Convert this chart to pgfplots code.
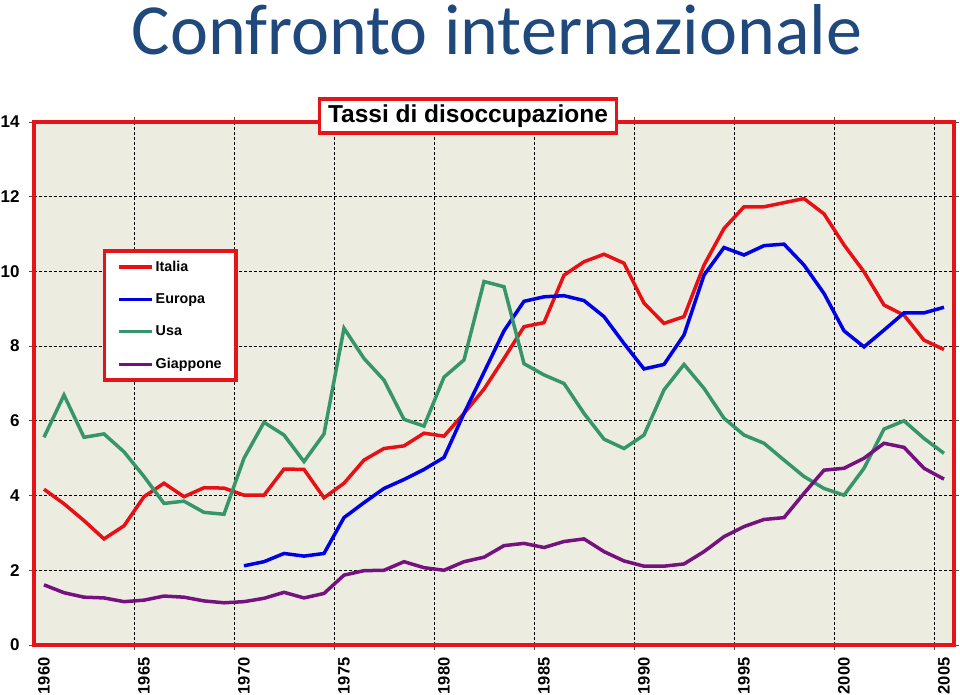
\documentclass[border=0pt]{standalone}
\usepackage{pgfplots}
\pgfplotsset{compat=1.18}
\usepackage{pgfplotstable}
\usepackage{fontspec}
\setmainfont{Liberation Sans}
\newfontfamily\titlefont{Carlito}
\definecolor{bgcol}{RGB}{236,237,224}
\definecolor{cred}{RGB}{232,16,20}
\definecolor{cblue}{RGB}{0,0,230}
\definecolor{cgreen}{RGB}{55,150,105}
\definecolor{cpurple}{RGB}{118,18,128}
\definecolor{ctitle}{RGB}{31,73,125}
\definecolor{cframe}{RGB}{228,20,24}

\pgfplotstableread{
year italia usa giappone
1960 4.17 5.56 1.61
1961 3.78 6.69 1.40
1962 3.33 5.56 1.28
1963 2.84 5.65 1.26
1964 3.19 5.17 1.16
1965 3.97 4.51 1.20
1966 4.33 3.79 1.31
1967 3.97 3.85 1.28
1968 4.21 3.55 1.18
1969 4.20 3.50 1.13
1970 4.01 5.00 1.16
1971 4.01 5.96 1.25
1972 4.71 5.62 1.41
1973 4.70 4.91 1.26
1974 3.94 5.65 1.38
1975 4.33 8.48 1.87
1976 4.95 7.67 1.99
1977 5.26 7.09 2.00
1978 5.33 6.04 2.23
1979 5.67 5.86 2.07
1980 5.59 7.17 2.00
1981 6.20 7.63 2.23
1982 6.85 9.73 2.35
1983 7.67 9.59 2.66
1984 8.52 7.53 2.72
1985 8.63 7.23 2.61
1986 9.90 7.00 2.77
1987 10.26 6.20 2.84
1988 10.46 5.51 2.50
1989 10.22 5.26 2.25
1990 9.15 5.62 2.11
1991 8.61 6.83 2.11
1992 8.79 7.51 2.17
1993 10.17 6.87 2.50
1994 11.15 6.07 2.90
1995 11.73 5.62 3.17
1996 11.73 5.40 3.36
1997 11.84 4.95 3.41
1998 11.95 4.51 4.06
1999 11.54 4.19 4.68
2000 10.71 4.01 4.73
2001 9.99 4.73 5.00
2002 9.10 5.78 5.40
2003 8.83 6.00 5.29
2004 8.16 5.53 4.73
2005 7.91 5.13 4.44
}\maindata

\pgfplotstableread{
year europa
1970 2.12
1971 2.23
1972 2.45
1973 2.38
1974 2.45
1975 3.41
1976 3.81
1977 4.19
1978 4.43
1979 4.70
1980 5.02
1981 6.20
1982 7.30
1983 8.41
1984 9.20
1985 9.32
1986 9.35
1987 9.22
1988 8.79
1989 8.07
1990 7.39
1991 7.51
1992 8.30
1993 9.90
1994 10.64
1995 10.44
1996 10.69
1997 10.73
1998 10.17
1999 9.41
2000 8.41
2001 7.98
2002 8.43
2003 8.89
2004 8.89
2005 9.04
}\europadata

\begin{document}
\begin{tikzpicture}
\useasboundingbox (-34pt,-50pt) rectangle (926pt,645pt);
\begin{axis}[
  at={(0pt,0pt)}, anchor=south west,
  scale only axis,
  width=920pt, height=523pt,
  xmin=1959.5, xmax=2005.5,
  ymin=0, ymax=14,
  xtick={1960,1965,...,2005},
  minor xtick={1964.5,1969.5,...,2004.5},
  ytick={0,2,...,14},
  xminorgrids=true, xmajorgrids=false, ymajorgrids=true,
  minor grid style={black, line width=0.9pt, dash pattern=on 3pt off 2pt},
  major grid style={black, line width=0.9pt, dash pattern=on 3pt off 2pt},
  axis background/.style={fill=bgcol},
  axis line style={cframe, line width=3.5pt},
  tick align=outside,
  major x tick style={draw=none},
  minor x tick style={black!70, line width=0.8pt},
  major y tick style={black!70, line width=0.8pt},
  major tick length=5pt, minor tick length=5pt,
  /pgf/number format/assume math mode=true,
  /pgf/number format/1000 sep={},
  tick label style={font=\bfseries\fontsize{16.5}{16.5}\selectfont, black},
  yticklabel style={font=\bfseries\fontsize{17}{17}\selectfont},
  xticklabel style={rotate=90, anchor=east},
  xticklabel shift=4pt,
  yticklabel shift=6pt,
  legend cell align=left,
  legend style={
    at={(0.075,0.757)}, anchor=north west,
    draw=cframe, line width=3.5pt, fill=white,
    font=\bfseries\fontsize{14.3}{14.3}\selectfont,
    row sep=17pt, inner xsep=13pt, inner ysep=8pt,
    nodes={inner xsep=1.5pt},
  },
  legend image code/.code={\draw[#1] (0pt,0pt) -- (33pt,0pt);},
]
\addplot[cred, line width=3.5pt] table[x=year, y=italia] {\maindata};
\addlegendentry{Italia}
\addplot[cblue, line width=3.5pt] table[x=year, y=europa] {\europadata};
\addlegendentry{Europa}
\addplot[cgreen, line width=3.5pt] table[x=year, y=usa] {\maindata};
\addlegendentry{Usa}
\addplot[cpurple, line width=3.5pt] table[x=year, y=giappone] {\maindata};
\addlegendentry{Giappone}
\end{axis}
\node[anchor=base, text=ctitle, font=\titlefont\fontsize{72}{72}\selectfont] at (463pt,590pt) {Confronto internazionale};
\node[draw=cframe, line width=3.5pt, fill=white, minimum width=297pt, minimum height=34pt, inner sep=0pt,
  font=\bfseries\fontsize{24.5}{24.5}\selectfont] at (434pt,529pt) {Tassi di disoccupazione};
\end{tikzpicture}
\end{document}
